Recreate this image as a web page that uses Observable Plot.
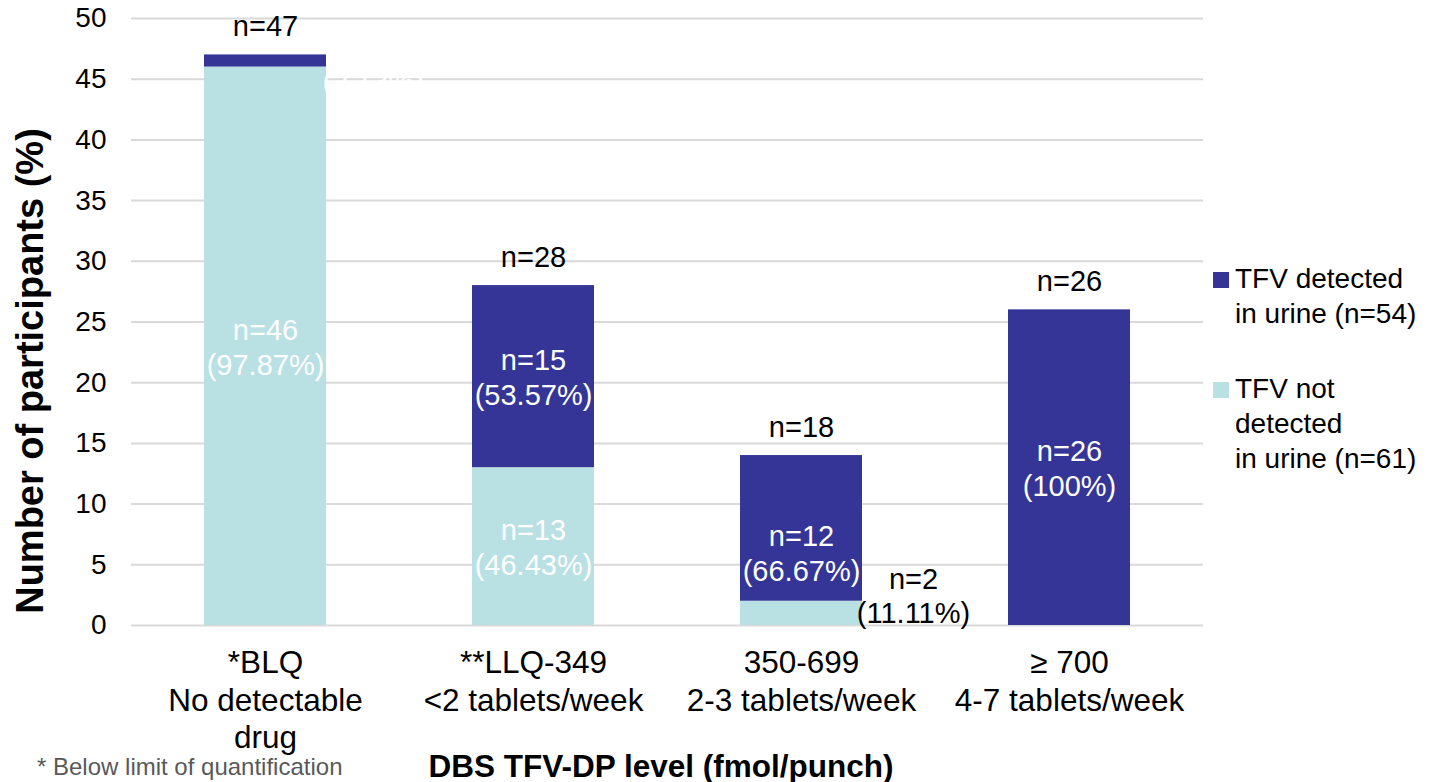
<!DOCTYPE html>
<html>
<head>
<meta charset="utf-8">
<script src="https://cdn.jsdelivr.net/npm/d3@7"></script>
<script src="https://cdn.jsdelivr.net/npm/@observablehq/plot@0.6"></script>
<style>
  html, body { margin: 0; padding: 0; background: #fff; }
  #wrap { position: relative; width: 1429px; height: 782px; font-family: "Liberation Sans", Arial, sans-serif; }
  #chart { position: absolute; left: 0; top: 0; }
  .abs { position: absolute; white-space: nowrap; color: #000; }
  .legend-item { position: absolute; left: 1213px; font-size: 28px; line-height: 35px; }
  .sw { position: absolute; left: 0; width: 16px; height: 16px; }
  .lt { position: absolute; left: 22px; white-space: pre; }
</style>
</head>
<body>
<div id="wrap">
  <div id="chart"></div>
  <div class="abs" id="ytitle" style="left:30px; top:371px; font-size:38px; font-weight:bold; transform: translate(-50%,-50%) rotate(-90deg);">Number of participants (%)</div>
  <div class="abs" style="left:661px; top:766px; font-size:31.5px; font-weight:bold; transform: translate(-50%,-50%);">DBS TFV-DP level (fmol/punch)</div>
  <div class="abs" style="left:37px; top:767px; font-size:24px; color:#595959; transform: translate(0,-50%);">* Below limit of quantification</div>
  <div id="legend"></div>
</div>
<script>
const categories = ["BLQ", "LLQ-349", "350-699", "≥700"];
const tickLabels = ["*BLQ\nNo detectable\ndrug", "**LLQ-349\n<2 tablets/week", "350-699\n2-3 tablets/week", "≥ 700\n4-7 tablets/week"];
const notDetected = [46, 13, 2, 0];
const detected = [1, 15, 12, 26];
const totalLabels = ["n=47", "n=28", "n=18", "n=26"];
const notDetectedLabels = ["n=46\n(97.87%)", "n=13\n(46.43%)", "n=2\n(11.11%)", ""];
const detectedLabels = ["n=1\n(2.13%)", "n=15\n(53.57%)", "n=12\n(66.67%)", "n=26\n(100%)"];
const seriesNames = ["TFV not detected", "TFV detected"];
const legendLabels = ["TFV detected\nin urine (n=54)", "TFV not\ndetected\nin urine (n=61)"];
const colors = { "TFV detected": "#353598", "TFV not detected": "#b9e0e3" };

const rows = [];
categories.forEach((c, i) => {
  rows.push({ cat: c, status: seriesNames[0], value: notDetected[i], label: notDetectedLabels[i] });
  rows.push({ cat: c, status: seriesNames[1], value: detected[i], label: detectedLabels[i] });
});
const totals = categories.map((c, i) => ({ cat: c, total: notDetected[i] + detected[i], label: totalLabels[i] }));

// labels drawn inside bars (white) vs outside (black)
const isSmallOutside = r => r.cat === "350-699" && r.status === seriesNames[0];
const isHidden = r => r.cat === "BLQ" && r.status === seriesNames[1];
const insideRows = rows.filter(r => r.label && !isSmallOutside(r) && !isHidden(r));
const outsideSmall = rows.filter(isSmallOutside);
const hiddenLabel = rows.filter(isHidden);

const tickMap = new Map(categories.map((c, i) => [c, tickLabels[i]]));

const plot = Plot.plot({
  width: 1429,
  height: 782,
  marginLeft: 131,
  marginRight: 226,
  marginTop: 18,
  marginBottom: 157,
  style: { fontFamily: "Liberation Sans, Arial, sans-serif", background: "transparent" },
  x: { domain: categories, paddingInner: 0.545, paddingOuter: 0.2725, label: null },
  y: { domain: [0, 50], label: null, ticks: d3.range(0, 51, 5) },
  color: { domain: seriesNames, range: [colors["TFV not detected"], colors["TFV detected"]] },
  marks: [
    Plot.gridY(d3.range(0, 51, 5), { stroke: "#d9d9d9", strokeOpacity: 1, strokeWidth: 2 }),
    Plot.axisY({ ticks: d3.range(0, 51, 5), tickSize: 0, tickPadding: 25, fontSize: 28, fill: "#000" }),
    Plot.axisX({ tickSize: 0, tickPadding: 21, fontSize: 31.5, lineHeight: 1.19, fill: "#000", tickFormat: d => tickMap.get(d) }),
    Plot.barY(rows, Plot.stackY({ x: "cat", y: "value", fill: "status", order: seriesNames })),
    Plot.text(insideRows, Plot.stackY({ x: "cat", y: "value", text: "label", order: seriesNames, z: "status", fill: "#fff", fontSize: 29, lineHeight: 1.2 })),
    Plot.text(outsideSmall, { x: "cat", y: 2, text: "label", fill: "#000", fontSize: 29, lineHeight: 1.15, dx: 112, dy: -6 }),
    Plot.text(hiddenLabel, { x: "cat", y: 44.7, text: d => "(2.13%)", fill: "#fff", fontSize: 29, textAnchor: "start", dx: 57 }),
    Plot.text(totals, { x: "cat", y: "total", text: "label", fill: "#000", fontSize: 29, dy: -28 })
  ]
});
document.getElementById("chart").appendChild(plot);

// legend
const legend = document.getElementById("legend");
const legendSeries = ["TFV detected", "TFV not detected"];
const legendTops = [261, 371];
legendSeries.forEach((s, i) => {
  const item = document.createElement("div");
  item.className = "legend-item";
  item.style.top = legendTops[i] + "px";
  const sw = document.createElement("div");
  sw.className = "sw";
  sw.style.background = colors[s];
  sw.style.top = "11px";
  const t = document.createElement("div");
  t.className = "lt";
  t.textContent = legendLabels[i];
  item.appendChild(sw);
  item.appendChild(t);
  legend.appendChild(item);
});
</script>
</body>
</html>
